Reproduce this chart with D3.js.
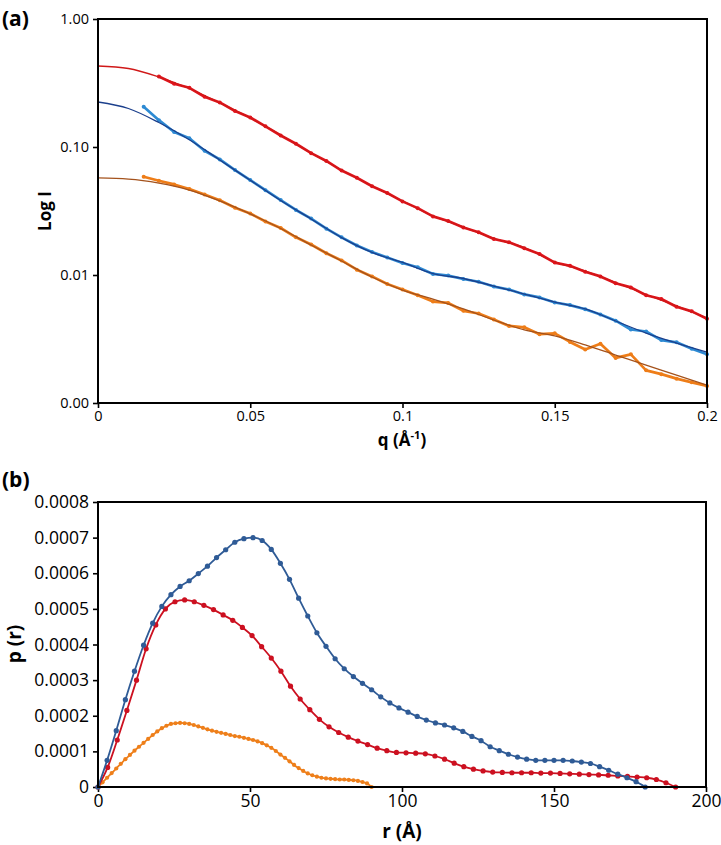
<!DOCTYPE html>
<html><head><meta charset="utf-8">
<script src="https://cdn.jsdelivr.net/npm/d3@7"></script>
<style>body{margin:0;background:#fff}</style>
</head><body>
<svg id="c" width="721" height="845" xmlns="http://www.w3.org/2000/svg"></svg>
<script>
// ---------- Panel (a): scattering curves ----------
const qFit = [0,0.01,0.02,0.03,0.04,0.05,0.06,0.07,0.08,0.09,0.10,0.11,0.12,0.13,0.14,0.15,0.16,0.17,0.18,0.19,0.20];
const redFit = [0.4295,0.4105,0.3522,0.2864,0.2207,0.1684,0.1241,0.0898,0.0661,0.0496,0.0379,0.0289,0.0237,0.0193,0.0164,0.01264,0.01074,0.00874,0.00704,0.00573,0.00461];
const blueFit = [0.2247,0.1999,0.1553,0.1140,0.0792,0.0550,0.0382,0.0274,0.0196,0.0150,0.01253,0.01027,0.00939,0.00820,0.00710,0.00615,0.00543,0.00437,0.00352,0.00294,0.00250];
const orangeFit = [0.0573,0.0562,0.0523,0.0461,0.0379,0.0300,0.0231,0.01716,0.01286,0.00965,0.00763,0.00649,0.00543,0.00445,0.00372,0.00334,0.00284,0.00237,0.00198,0.00165,0.00138];

const qData = [0.015,0.020,0.025,0.030,0.035,0.040,0.045,0.050,0.055,0.060,0.065,0.070,0.075,0.080,0.085,0.090,0.095,0.100,0.105,0.110,0.115,0.120,0.125,0.130,0.135,0.140,0.145,0.150,0.155,0.160,0.165,0.170,0.175,0.180,0.185,0.190,0.195,0.200];
const redData = [null,0.356,0.312,0.290,0.247,0.223,0.191,0.170,0.145,0.123,0.106,0.0895,0.0778,0.0655,0.0575,0.0494,0.0437,0.0376,0.0333,0.0287,0.0264,0.0235,0.0216,0.0191,0.0180,0.0162,0.0146,0.0125,0.0118,0.0106,0.00975,0.00862,0.00800,0.00695,0.00650,0.00565,0.00520,0.00455];
const blueData = [0.206,0.162,0.131,0.117,0.0935,0.0800,0.0660,0.0552,0.0460,0.0385,0.0322,0.0276,0.0230,0.0197,0.0170,0.0151,0.0137,0.0124,0.0115,0.0102,0.00990,0.00930,0.00885,0.00812,0.00770,0.00705,0.00668,0.00610,0.00582,0.00540,0.00492,0.00440,0.00375,0.00362,0.00310,0.00298,0.00265,0.00240];
const orangeData = [0.0585,0.0545,0.0510,0.0470,0.0425,0.0384,0.0335,0.0302,0.0262,0.0233,0.0197,0.0173,0.0148,0.0130,0.0110,0.00975,0.00850,0.00770,0.00695,0.00620,0.00605,0.00525,0.00500,0.00450,0.00400,0.00390,0.00345,0.00350,0.00300,0.00262,0.00290,0.00225,0.00240,0.00180,0.00168,0.00155,0.00145,0.00136];

const aYTicks = [1, 0.1, 0.01, 0.001];
const aYLabels = ["1.00", "0.10", "0.01", "0.00"];
const aXTicks = [0, 0.05, 0.1, 0.15, 0.2];
const aXLabels = ["0", "0.05", "0.1", "0.15", "0.2"];

// ---------- Panel (b): pair distance distributions ----------
const rBlue = [0,3,6,9,12,15,18,21,24,27,30,33,36,39,42,45,48,51,54,57,60,63,66,69,72,75,78,81,84,87,90,93,96,99,102,105,108,111,114,117,120,123,126,129,132,135,138,141,144,147,150,153,156,159,162,165,168,171,174,177,180];
const pBlue = [0,0.75,1.58,2.45,3.25,3.98,4.6,5.07,5.4,5.63,5.79,5.99,6.2,6.44,6.66,6.87,6.97,7.0,6.92,6.67,6.28,5.83,5.3,4.8,4.33,3.95,3.6,3.32,3.1,2.91,2.73,2.53,2.36,2.22,2.1,1.98,1.88,1.8,1.74,1.66,1.56,1.42,1.3,1.13,1.02,0.92,0.84,0.78,0.75,0.75,0.75,0.75,0.73,0.70,0.66,0.57,0.47,0.36,0.26,0.15,0];
const rRed = [0,3.17,6.33,9.5,12.67,15.83,19,22.17,25.33,28.5,31.67,34.83,38,41.17,44.33,47.5,50.67,53.83,57,60.17,63.33,66.5,69.67,72.83,76,79.17,82.33,85.5,88.67,91.83,95,98.17,101.33,104.5,107.67,110.83,114,117.17,120.33,123.5,126.67,129.83,133,136.17,139.33,142.5,145.67,148.83,152,155.17,158.33,161.5,164.67,167.83,171,174.17,177.33,180.5,183.67,186.83,190];
const pRed = [0,0.55,1.32,2.15,3.0,3.88,4.55,5.0,5.2,5.25,5.2,5.1,4.98,4.83,4.68,4.48,4.25,3.94,3.62,3.25,2.83,2.47,2.17,1.9,1.69,1.53,1.4,1.29,1.19,1.09,1.02,0.97,0.96,0.95,0.93,0.87,0.78,0.67,0.57,0.50,0.45,0.42,0.41,0.40,0.40,0.40,0.39,0.39,0.38,0.37,0.36,0.35,0.34,0.33,0.31,0.30,0.28,0.26,0.21,0.12,0];
const rOrange = [0,1.5,3,4.5,6,7.5,9,10.5,12,13.5,15,16.5,18,19.5,21,22.5,24,25.5,27,28.5,30,31.5,33,34.5,36,37.5,39,40.5,42,43.5,45,46.5,48,49.5,51,52.5,54,55.5,57,58.5,60,61.5,63,64.5,66,67.5,69,70.5,72,73.5,75,76.5,78,79.5,81,82.5,84,85.5,87,88.5,90];
const pOrange = [0,0.13,0.26,0.39,0.52,0.65,0.78,0.9,1.02,1.13,1.24,1.35,1.46,1.56,1.65,1.72,1.77,1.79,1.8,1.79,1.77,1.74,1.7,1.66,1.62,1.58,1.55,1.52,1.49,1.46,1.43,1.41,1.38,1.35,1.32,1.28,1.23,1.17,1.1,1.01,0.91,0.82,0.72,0.62,0.53,0.45,0.38,0.33,0.29,0.26,0.24,0.23,0.22,0.21,0.21,0.2,0.19,0.17,0.14,0.1,0];
const pScale = 1e-4; // p values above are in units of 1e-4

const bYTicks = [0,0.0001,0.0002,0.0003,0.0004,0.0005,0.0006,0.0007,0.0008];
const bYLabels = ["0","0.0001","0.0002","0.0003","0.0004","0.0005","0.0006","0.0007","0.0008"];
const bXTicks = [0,50,100,150,200];
const bXLabels = ["0","50","100","150","200"];

const svg = d3.select("#c");
const FONT = "'Open Sans', 'DejaVu Sans', sans-serif";

// ---------- Draw panel (a) ----------
const xA = d3.scaleLinear().domain([0, 0.2]).range([98, 707]);
const yA = d3.scaleLog().domain([0.001, 1]).range([403, 19]);

const gA = svg.append("g");
function styleAxis(g, size) {
  g.selectAll("path.domain").remove();
  g.selectAll(".tick line").attr("stroke", "#000").attr("stroke-width", 1.6);
  g.selectAll(".tick text").attr("font-family", FONT).attr("font-size", size).attr("fill", "#000");
}
gA.append("g").attr("transform", "translate(98,0)")
  .call(d3.axisLeft(yA).tickValues(aYTicks).tickFormat((d, i) => aYLabels[i]).tickSize(5).tickPadding(4))
  .call(g => styleAxis(g, 14.5));
gA.append("g").attr("transform", "translate(0,403)")
  .call(d3.axisBottom(xA).tickValues(aXTicks).tickFormat((d, i) => aXLabels[i]).tickSize(5).tickPadding(3))
  .call(g => styleAxis(g, 14.5));

const lineData = d3.line().defined(d => d[1] != null).x(d => xA(d[0])).y(d => yA(d[1]));
const lineFit = d3.line().x(d => xA(d[0])).y(d => yA(d[1])).curve(d3.curveMonotoneX);

const aSeries = [
  {data: redData, dcol: "#e0141c", fit: redFit, fcol: "#d01818"},
  {data: blueData, dcol: "#2d8ad3", fit: blueFit, fcol: "#1b3f8c"},
  {data: orangeData, dcol: "#ee7d18", fit: orangeFit, fcol: "#a4521c"}
];
svg.append("clipPath").attr("id", "clipA").append("rect")
  .attr("x", 98).attr("y", 19).attr("width", 609).attr("height", 384);
aSeries.forEach(s => {
  const pts = qData.map((q, i) => [q, s.data[i]]);
  gA.append("path").datum(pts).attr("d", lineData).attr("fill", "none")
    .attr("stroke", s.dcol).attr("stroke-width", 2.7).attr("stroke-linejoin", "round")
    .attr("clip-path", "url(#clipA)");
  gA.append("g").selectAll("circle").data(pts.filter(d => d[1] != null)).join("circle")
    .attr("cx", d => xA(d[0])).attr("cy", d => yA(d[1])).attr("r", 2).attr("fill", s.dcol);
});
aSeries.forEach(s => {
  const pts = qFit.map((q, i) => [q, s.fit[i]]);
  gA.append("path").datum(pts).attr("d", lineFit).attr("fill", "none")
    .attr("stroke", s.fcol).attr("stroke-width", 1.3).attr("clip-path", "url(#clipA)");
});
gA.append("rect").attr("x", 98).attr("y", 19).attr("width", 609).attr("height", 384)
  .attr("fill", "none").attr("stroke", "#000").attr("stroke-width", 2);

gA.append("text").attr("x", 2).attr("y", 26).text("(a)")
  .attr("font-family", FONT).attr("font-weight", "bold").attr("font-size", 21);
gA.append("text").attr("transform", "translate(51,211) rotate(-90)").attr("text-anchor", "middle")
  .text("Log I").attr("font-family", FONT).attr("font-weight", "bold").attr("font-size", 17);
const qt = gA.append("text").attr("x", 402).attr("y", 446).attr("text-anchor", "middle")
  .attr("font-family", FONT).attr("font-weight", "bold").attr("font-size", 17);
qt.append("tspan").text("q (Å");
qt.append("tspan").text("-1").attr("font-size", 11).attr("dy", -7);
qt.append("tspan").text(")").attr("dy", 7);

// ---------- Draw panel (b) ----------
const xB = d3.scaleLinear().domain([0, 200]).range([98, 706]);
const yB = d3.scaleLinear().domain([0, 0.0008]).range([787, 502]);
const gB = svg.append("g");
gB.append("g").attr("transform", "translate(98,0)")
  .call(d3.axisLeft(yB).tickValues(bYTicks).tickFormat((d, i) => bYLabels[i]).tickSize(5).tickPadding(4))
  .call(g => styleAxis(g, 17.5));
gB.append("g").attr("transform", "translate(0,787)")
  .call(d3.axisBottom(xB).tickValues(bXTicks).tickFormat((d, i) => bXLabels[i]).tickSize(5).tickPadding(3))
  .call(g => styleAxis(g, 17.5));

const lineB = d3.line().x(d => xB(d[0])).y(d => yB(d[1])).curve(d3.curveMonotoneX);
const bSeries = [
  {r: rOrange, p: pOrange, col: "#ee7f1a", rad: 2.1},
  {r: rRed, p: pRed, col: "#cc1020", rad: 2.6},
  {r: rBlue, p: pBlue, col: "#2f5b96", rad: 2.6}
];
bSeries.forEach(s => {
  const pts = s.r.map((r, i) => [r, s.p[i] * pScale]);
  gB.append("path").datum(pts).attr("d", lineB).attr("fill", "none")
    .attr("stroke", s.col).attr("stroke-width", 1.8);
  gB.append("g").selectAll("circle").data(pts).join("circle")
    .attr("cx", d => xB(d[0])).attr("cy", d => yB(d[1])).attr("r", s.rad).attr("fill", s.col);
});
gB.append("rect").attr("x", 98).attr("y", 502).attr("width", 608).attr("height", 285)
  .attr("fill", "none").attr("stroke", "#000").attr("stroke-width", 2);

gB.append("text").attr("x", 2).attr("y", 487).text("(b)")
  .attr("font-family", FONT).attr("font-weight", "bold").attr("font-size", 21);
gB.append("text").attr("transform", "translate(21,644) rotate(-90)").attr("text-anchor", "middle")
  .text("p (r)").attr("font-family", FONT).attr("font-weight", "bold").attr("font-size", 19);
gB.append("text").attr("x", 402).attr("y", 838).attr("text-anchor", "middle")
  .text("r (Å)").attr("font-family", FONT).attr("font-weight", "bold").attr("font-size", 19);
</script>
</body></html>
